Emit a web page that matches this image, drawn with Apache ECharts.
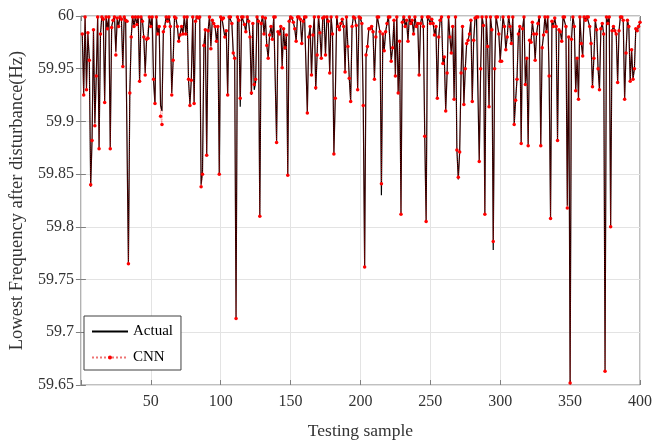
<!DOCTYPE html>
<html>
<head>
<meta charset="utf-8">
<script src="https://cdn.jsdelivr.net/npm/echarts@6/dist/echarts.min.js"></script>
<style>html,body{margin:0;padding:0;background:#fff;}#c{width:655px;height:445px;}</style>
</head>
<body>
<div id="c"></div>
<script>
const xTicks = [50, 100, 150, 200, 250, 300, 350, 400];
const yTicks = [59.65, 59.7, 59.75, 59.8, 59.85, 59.9, 59.95, 60];
const seriesNames = ['Actual', 'CNN'];

const actual = [
59.982,59.926,60.0,59.931,59.983,59.96,59.838,59.884,59.987,59.898,
59.943,60.0,59.874,59.983,60.0,59.998,59.919,59.999,59.988,60.0,
59.875,59.99,59.996,60.0,59.966,59.998,59.99,60.0,59.997,59.951,
60.0,59.996,59.995,59.765,59.928,59.98,60.0,59.99,60.0,59.992,
60.0,59.937,60.0,59.996,59.98,59.946,59.978,59.98,60.0,59.99,
59.999,59.938,59.916,60.0,59.983,59.99,59.915,59.91,59.985,59.99,
60.0,59.995,60.0,59.99,59.927,59.958,60.0,59.998,59.99,59.976,
59.983,59.99,59.983,60.0,59.983,60.0,59.939,59.916,59.94,60.0,
59.917,59.995,60.0,59.998,60.0,59.84,59.852,59.972,59.987,59.868,
59.986,60.0,59.971,59.996,59.993,59.99,59.976,59.99,59.85,60.0,
59.997,59.998,59.98,59.986,59.925,60.0,59.999,59.993,59.965,59.96,
59.713,60.0,59.996,59.914,60.0,59.999,59.992,59.985,60.0,59.995,
59.98,59.925,59.993,59.93,59.937,60.0,59.995,59.81,59.993,60.0,
59.983,59.998,59.972,59.96,59.982,59.99,59.978,60.0,59.999,59.881,
59.985,59.983,59.99,59.952,59.988,59.968,59.982,59.849,59.995,60.0,
59.998,59.994,59.988,59.976,60.0,60.0,59.997,59.974,59.995,60.0,
59.999,59.908,59.98,59.99,59.944,59.982,60.0,59.93,59.963,60.0,
59.984,59.96,59.998,60.0,59.963,60.0,59.995,59.946,60.0,59.983,
59.869,59.922,60.0,59.99,59.987,59.993,59.997,59.99,59.947,60.0,
59.971,59.941,59.919,59.99,60.0,59.998,59.991,59.93,60.0,59.998,
59.993,59.915,59.762,59.963,59.971,59.988,59.988,59.99,59.985,59.94,
59.98,60.0,60.0,59.985,59.83,59.983,59.967,59.985,59.993,60.0,
60.0,59.957,59.97,59.996,59.943,60.0,59.927,59.976,59.812,59.994,
60.0,59.99,59.996,59.976,60.0,59.993,59.996,59.983,60.0,59.99,
59.993,59.944,59.993,60.0,59.99,59.886,59.805,60.0,60.0,59.993,
59.997,59.993,59.982,59.99,59.922,59.98,59.996,60.0,59.955,59.961,
59.91,59.946,60.0,59.98,59.965,59.99,59.921,60.0,59.873,59.845,
59.872,59.946,59.99,59.916,59.95,59.974,59.977,59.983,59.996,59.919,
59.977,59.998,60.0,60.0,59.862,59.95,60.0,59.991,59.812,60.0,
59.971,59.914,60.0,59.987,59.778,59.95,60.0,60.0,59.983,59.957,
59.957,60.0,59.99,59.968,59.98,60.0,59.99,59.974,60.0,59.897,
59.92,59.94,59.983,59.99,59.879,59.988,60.0,59.935,59.96,59.878,
59.977,59.975,59.994,59.983,59.958,59.983,59.993,60.0,59.877,59.97,
59.982,60.0,59.985,60.0,59.943,59.808,59.995,59.99,59.998,59.99,
59.882,59.987,59.985,59.976,60.0,60.0,59.99,59.82,59.98,59.652,
59.978,60.0,59.99,59.929,59.96,59.921,60.0,59.974,59.962,60.0,
59.996,60.0,60.0,59.99,59.974,59.933,59.96,59.996,59.987,59.95,
59.93,59.988,59.993,59.983,59.663,60.0,59.993,60.0,59.80,59.986,
59.99,59.986,59.983,59.937,59.986,60.0,60.0,59.996,59.921,59.965,
59.996,59.99,59.938,59.968,59.94,59.95,59.988,59.986,59.99,59.994
];

const cnn = [
59.983,59.925,59.999,59.93,59.984,59.958,59.84,59.882,59.987,59.896,
59.943,59.999,59.874,59.983,59.999,59.997,59.918,59.999,59.988,59.999,
59.874,59.989,59.996,59.999,59.963,59.998,59.99,59.999,59.997,59.952,
59.999,59.996,59.995,59.765,59.927,59.98,59.999,59.99,59.999,59.992,
59.999,59.938,59.999,59.995,59.98,59.944,59.978,59.979,59.999,59.99,
59.999,59.94,59.917,59.999,59.983,59.99,59.905,59.897,59.985,59.99,
59.999,59.995,59.999,59.99,59.925,59.958,59.999,59.998,59.99,59.976,
59.982,59.99,59.983,59.999,59.983,59.999,59.94,59.915,59.939,59.999,
59.917,59.995,59.999,59.998,59.999,59.838,59.85,59.972,59.987,59.868,
59.986,59.999,59.969,59.996,59.993,59.99,59.976,59.99,59.85,59.999,
59.997,59.998,59.98,59.986,59.925,59.999,59.999,59.993,59.965,59.96,
59.713,59.999,59.996,59.922,59.999,59.999,59.992,59.985,59.999,59.995,
59.98,59.927,59.993,59.935,59.94,59.999,59.995,59.81,59.993,59.999,
59.983,59.998,59.972,59.96,59.982,59.99,59.978,59.999,59.999,59.88,
59.985,59.983,59.99,59.951,59.988,59.97,59.982,59.849,59.995,59.999,
59.998,59.994,59.988,59.976,59.999,59.999,59.997,59.974,59.995,59.999,
59.999,59.908,59.98,59.99,59.944,59.982,59.999,59.932,59.963,59.999,
59.984,59.96,59.998,59.999,59.963,59.999,59.995,59.946,59.999,59.983,
59.869,59.922,59.999,59.99,59.987,59.993,59.997,59.99,59.947,59.999,
59.971,59.941,59.919,59.99,59.999,59.998,59.991,59.93,59.999,59.998,
59.993,59.915,59.762,59.963,59.971,59.988,59.988,59.99,59.985,59.94,
59.98,59.999,59.999,59.985,59.841,59.983,59.967,59.985,59.993,59.999,
59.999,59.957,59.97,59.996,59.943,59.999,59.927,59.976,59.812,59.994,
59.999,59.99,59.996,59.976,59.999,59.993,59.996,59.983,59.999,59.99,
59.993,59.944,59.993,59.999,59.99,59.886,59.805,59.999,59.999,59.993,
59.997,59.993,59.982,59.99,59.922,59.98,59.996,59.999,59.955,59.961,
59.91,59.946,59.999,59.98,59.965,59.99,59.921,59.999,59.873,59.847,
59.871,59.946,59.99,59.916,59.95,59.974,59.977,59.983,59.996,59.919,
59.977,59.998,59.999,59.999,59.862,59.95,59.999,59.991,59.812,59.999,
59.971,59.914,59.999,59.987,59.786,59.95,59.999,59.999,59.983,59.957,
59.957,59.999,59.99,59.968,59.98,59.999,59.99,59.974,59.999,59.897,
59.92,59.94,59.983,59.99,59.879,59.988,59.999,59.935,59.96,59.877,
59.977,59.975,59.994,59.983,59.958,59.983,59.993,59.999,59.877,59.97,
59.982,59.999,59.985,59.999,59.943,59.808,59.995,59.99,59.998,59.99,
59.882,59.987,59.985,59.976,59.999,59.999,59.99,59.818,59.98,59.652,
59.978,59.999,59.99,59.929,59.96,59.921,59.999,59.974,59.962,59.999,
59.996,59.999,59.999,59.99,59.974,59.933,59.96,59.996,59.987,59.95,
59.93,59.988,59.993,59.983,59.663,59.999,59.993,59.999,59.80,59.986,
59.99,59.986,59.983,59.937,59.986,59.999,59.999,59.996,59.921,59.965,
59.996,59.99,59.938,59.968,59.94,59.95,59.988,59.986,59.99,59.994
];

const FONT = 'Liberation Serif';
const TXT = '#333';
const chart = echarts.init(document.getElementById('c'), null, {renderer: 'canvas'});
const fmtY = v => String(+(+v).toFixed(2));
const axisBase = {
  axisLine: {show: false},
  splitLine: {show: true, lineStyle: {color: '#e3e3e3', width: 1}},
  axisTick: {show: true, inside: true, length: 5, lineStyle: {color: '#808080'}}
};
chart.setOption({
  animation: false,
  backgroundColor: '#fff',
  textStyle: {fontFamily: FONT},
  grid: {left: 71, right: 11, top: 16, bottom: 58, show: true, borderColor: '#808080', borderWidth: 1, backgroundColor: 'transparent'},
  legend: {
    show: true, orient: 'vertical', left: 84, top: 316,
    data: [
      {name: seriesNames[0], itemStyle: {opacity: 0}},
      {name: seriesNames[1], itemStyle: {color: '#ff0000', borderWidth: 0}}
    ],
    backgroundColor: '#fff', borderColor: '#404040', borderWidth: 1,
    padding: [8, 8, 5, 7], itemGap: 11, itemWidth: 36, itemHeight: 5,
    textStyle: {fontFamily: FONT, fontSize: 15, color: '#000'}
  },
  xAxis: [
    Object.assign({}, axisBase, {
      type: 'value', min: 0, max: 400, interval: 50,
      name: 'Testing sample', nameLocation: 'middle', nameGap: 37,
      nameTextStyle: {fontFamily: FONT, fontSize: 17.5, color: TXT},
      axisLabel: {fontFamily: FONT, fontSize: 16, color: TXT, margin: 9,
        formatter: v => (xTicks.indexOf(v) >= 0 ? String(v) : '')}
    }),
    {type: 'value', position: 'top', min: 0, max: 400, interval: 50,
     axisLine: {show: false}, splitLine: {show: false}, axisLabel: {show: false},
     axisTick: {show: true, inside: true, length: 5, lineStyle: {color: '#808080'}}}
  ],
  yAxis: [
    Object.assign({}, axisBase, {
      type: 'value', min: yTicks[0], max: yTicks[yTicks.length - 1], interval: 0.05,
      name: 'Lowest Frequency after disturbance(Hz)', nameLocation: 'middle', nameGap: 45,
      nameTextStyle: {fontFamily: FONT, fontSize: 18.5, color: TXT},
      axisLabel: {fontFamily: FONT, fontSize: 16, color: TXT, margin: 7, formatter: fmtY}
    }),
    {type: 'value', position: 'right', min: yTicks[0], max: yTicks[yTicks.length - 1], interval: 0.05,
     axisLine: {show: false}, splitLine: {show: false}, axisLabel: {show: false},
     axisTick: {show: true, inside: true, length: 5, lineStyle: {color: '#808080'}}}
  ],
  series: [
    {
      name: seriesNames[0], type: 'line', xAxisIndex: 0, yAxisIndex: 0,
      data: actual.map((v, i) => [i + 1, v]),
      symbol: 'none', lineStyle: {color: '#000', width: 1.2}, itemStyle: {color: '#000'},
      z: 2
    },
    {
      name: seriesNames[1], type: 'line', xAxisIndex: 0, yAxisIndex: 0,
      data: cnn.map((v, i) => [i + 1, v]),
      symbol: 'circle', symbolSize: 3.5, showSymbol: true,
      lineStyle: {color: '#e00000', width: 1, type: 'dotted', opacity: 0.55},
      itemStyle: {color: '#ff0000', borderWidth: 0},
      z: 3
    }
  ]
});
</script>
</body>
</html>
